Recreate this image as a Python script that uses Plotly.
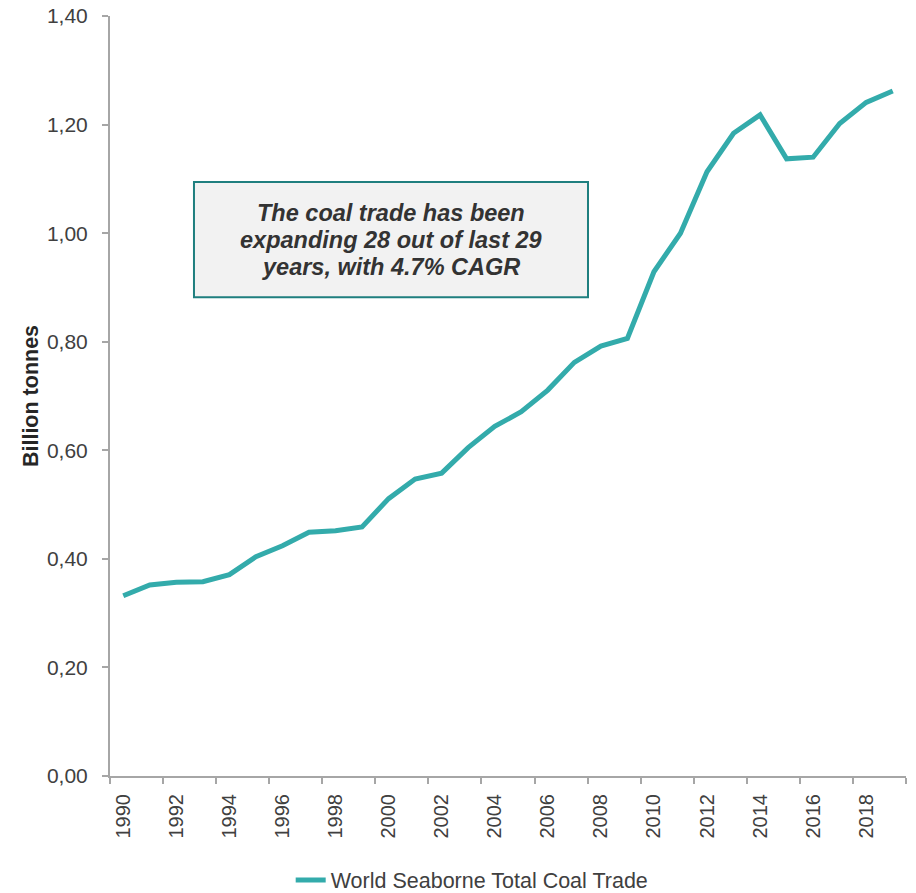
import plotly.graph_objects as go

years = list(range(1990, 2020))
trade = [0.332, 0.352, 0.357, 0.358, 0.371, 0.404, 0.424, 0.449, 0.452, 0.459,
         0.511, 0.547, 0.558, 0.605, 0.644, 0.671, 0.711, 0.762, 0.792, 0.806,
         0.929, 1.000, 1.113, 1.184, 1.218, 1.137, 1.140, 1.202, 1.241, 1.262]
series_name = "World Seaborne Total Coal Trade"
label_years = list(range(1990, 2019, 2))
tick_bounds = [y - 0.5 for y in range(1990, 2021, 2)]
y_ticks = [0, 0.2, 0.4, 0.6, 0.8, 1.0, 1.2, 1.4]
note_lines = ["The coal trade has been", "expanding 28 out of last 29", "years, with 4.7% CAGR"]

TEAL = "#33abab"
AXIS = "#a6a6a6"
TXT = "#404040"
FONT = "Liberation Sans, Arial, sans-serif"

fig = go.Figure()
fig.add_trace(go.Scatter(x=years, y=trade, mode="lines", name=series_name,
                         line=dict(color=TEAL, width=5)))

fig.update_layout(
    width=916, height=893,
    margin=dict(l=110, r=10, t=16, b=117, autoexpand=False),
    plot_bgcolor="white", paper_bgcolor="white",
    separators=",.",
    font=dict(family=FONT, color=TXT, size=20),
    showlegend=True,
    legend=dict(orientation="h", x=0.227, xanchor="left", y=-0.137, yanchor="middle",
                font=dict(size=21.5, color=TXT), bgcolor="rgba(0,0,0,0)"),
    xaxis=dict(range=[1989.5, 2019.5], tickmode="array", tickvals=label_years,
               ticktext=[str(y) for y in label_years], tickangle=-90, ticks="",
               showgrid=False, zeroline=False, showline=True, linecolor=AXIS, linewidth=2,
               tickfont=dict(size=20, color=TXT), ticklabelstandoff=8, automargin=False,
               ticklabeloverflow="allow",
               minor=dict(tickmode="array", tickvals=tick_bounds, ticks="outside",
                          ticklen=6, tickcolor=AXIS, tickwidth=2, showgrid=False)),
    yaxis=dict(range=[0, 1.4001], tickmode="array", tickvals=y_ticks, tickformat=".2f",
               ticks="outside", ticklen=6, tickcolor=AXIS, tickwidth=2,
               showgrid=False, zeroline=False, showline=True, linecolor=AXIS, linewidth=2,
               tickfont=dict(size=21, color=TXT), ticklabelstandoff=10, automargin=False,
               ticklabeloverflow="allow",
               title=dict(text="<b>Billion tonnes</b>", font=dict(size=21.5, color="#262626"),
                          standoff=2)),
)

fig.add_shape(type="rect", xref="paper", yref="paper",
              x0=0.1055, x1=0.6005, y0=0.630, y1=0.7816,
              fillcolor="#f2f2f2", line=dict(color="#1f7f7f", width=2), layer="above")
line_gap = 27 / 760
for i, line in enumerate(note_lines):
    fig.add_annotation(xref="paper", yref="paper", x=0.353, y=0.7052 + (1 - i) * line_gap,
                       xanchor="center", yanchor="middle", showarrow=False,
                       text="<b><i>" + line + "</i></b>",
                       font=dict(size=23.5, color="#333333", family=FONT))

fig.write_html("out.html", config={"displayModeBar": False},
               post_script="document.body.style.margin='0';document.body.style.padding='0';")
